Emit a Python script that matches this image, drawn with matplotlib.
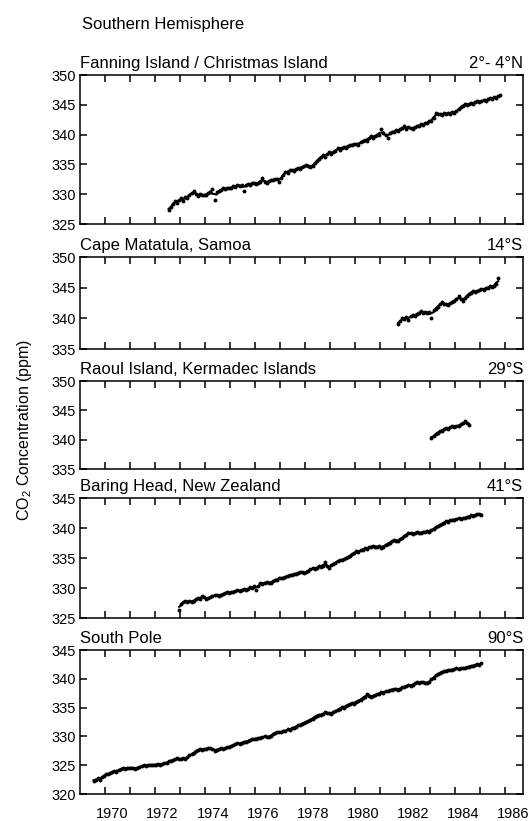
import numpy as np
import pandas as pd
import matplotlib
matplotlib.use('Agg')
import matplotlib.pyplot as plt
from matplotlib.ticker import MultipleLocator, FixedLocator, NullFormatter

plt.rcParams['font.family'] = ['Liberation Sans', 'DejaVu Sans']
plt.rcParams['mathtext.fontset'] = 'custom'
plt.rcParams['mathtext.rm'] = 'Liberation Sans'

# monthly flask means (ppm), each series starts at (year, month)
fanning_start = (1972, 7)
fanning = [
    327.3, 327.8, 328.4, 328.9, 328.5, 329.0,
    329.3, 328.8, 329.6, 329.4, 329.8, 330.2, 330.6, 330.1, 329.7, 330.0, 329.8, 329.9,
    329.8, 330.2, 330.4, 330.8, 329.0, 330.3, 330.5, 330.7, 331.0, 330.8, 331.0, 331.1,
    331.0, 331.3, 331.2, 331.5, 331.4, 331.6, 330.6, 331.6, 331.7, 331.5, 331.8, 331.9,
    331.7, 331.9, 332.0, 332.8, 332.0, 331.9, 332.2, 332.4, 332.3, 332.6, 332.5, 332.1,
    332.8, 333.3, 333.8, 333.6, 334.0, 334.1, 333.9, 334.2, 334.4, 334.3, 334.6, 334.7,
    334.9, 334.8, 334.6, 334.7, 335.2, 335.6, 335.9, 336.2, 336.6, 336.3, 336.7, 337.0,
    336.8, 337.1, 337.3, 337.7, 337.5, 337.8, 338.0, 337.7, 338.1, 338.3, 338.2, 338.4,
    338.5, 338.3, 338.7, 338.9, 339.1, 339.0, 339.4, 339.7, 339.5, 339.8, 340.0, 339.9,
    340.9, 340.2, 340.0, 339.4, 340.3, 340.5, 340.4, 340.7, 340.6, 340.9, 341.1, 341.4,
    341.0, 341.2, 341.1, 340.9, 341.3, 341.5, 341.4, 341.7, 341.6, 341.9, 342.0, 342.2,
    342.3, 342.8, 343.6, 343.4, 343.5, 343.3, 343.6, 343.4, 343.7, 343.5, 343.8, 343.6,
    343.9, 344.3, 344.6, 344.8, 345.2, 345.0, 345.1, 345.3, 345.2, 345.4, 345.6, 345.5,
    345.6, 345.8, 345.7, 345.9, 346.1, 346.0, 346.3, 346.1, 346.5, 346.7,
]

samoa_start = (1981, 9)
samoa = [
    339.0, 339.5, 340.1, 339.9,
    340.2, 339.8, 340.3, 340.5, 340.4, 340.7, 340.9, 341.2, 340.8, 341.0, 340.9, 341.1,
    340.1, 341.3, 341.6, 341.9, 342.3, 342.6, 342.4, 342.3, 342.1, 342.5, 342.7, 342.9,
    343.1, 343.6, 343.2, 342.8, 343.3, 343.7, 344.0, 344.2, 344.5, 344.3, 344.4, 344.6,
    344.8, 344.7, 344.9, 345.0, 345.2, 345.1, 345.3, 345.6, 346.5,
]

raoul_start = (1983, 1)
raoul = [
    340.3, 340.6, 340.9, 341.2, 341.5, 341.4, 341.8, 342.0, 341.8, 342.1, 342.3, 342.1,
    342.4, 342.3, 342.6, 342.8, 343.1, 342.9, 342.5,
]

baring_start = (1972, 12)
baring = [
    326.3,
    327.4, 327.7, 327.8, 327.6, 327.8, 327.7, 327.9, 328.1, 328.3, 328.2, 328.6, 328.5,
    328.1, 328.3, 328.5, 328.6, 328.8, 328.9, 328.7, 328.9, 329.0, 329.1, 329.3, 329.2,
    329.4, 329.3, 329.5, 329.6, 329.5, 329.7, 329.8, 329.6, 329.9, 330.1, 330.0, 330.3,
    329.7, 330.4, 330.8, 330.7, 330.9, 331.0, 330.8, 330.9, 331.1, 331.3, 331.4, 331.6,
    331.6, 331.7, 331.9, 332.0, 332.2, 332.1, 332.3, 332.4, 332.5, 332.7, 332.6, 332.5,
    332.7, 332.9, 333.1, 333.3, 333.2, 333.4, 333.6, 333.5, 333.7, 334.4, 333.6, 333.3,
    333.8, 334.0, 334.2, 334.5, 334.7, 334.6, 334.8, 335.0, 335.2, 335.4, 335.6, 335.8,
    336.1, 336.0, 336.3, 336.4, 336.6, 336.5, 336.8, 336.9, 337.0, 336.8, 336.9, 337.0,
    336.7, 336.9, 337.2, 337.4, 337.5, 337.8, 338.0, 337.9, 337.8, 338.1, 338.4, 338.6,
    338.9, 339.2, 339.1, 339.0, 339.2, 339.3, 339.1, 339.2, 339.4, 339.3, 339.5, 339.4,
    339.6, 339.9, 340.1, 340.3, 340.5, 340.7, 340.9, 341.2, 341.0, 341.3, 341.4, 341.3,
    341.5, 341.6, 341.5, 341.7, 341.6, 341.8, 341.9, 342.1, 342.0, 342.2, 342.3, 342.4,
    342.1,
]

pole_start = (1969, 7)
pole = [
    322.3, 322.5, 322.7, 322.4, 322.9, 323.2,
    323.5, 323.4, 323.7, 323.8, 324.0, 323.9, 324.2, 324.3, 324.5, 324.4, 324.6, 324.5,
    324.5, 324.6, 324.4, 324.5, 324.7, 324.8, 325.0, 324.9, 325.0, 325.1, 325.0, 325.1,
    325.1, 325.2, 325.1, 325.2, 325.4, 325.3, 325.7, 325.8, 325.9, 326.0, 326.2, 326.1,
    326.0, 326.2, 326.0, 326.4, 326.7, 326.9, 327.1, 327.4, 327.7, 327.8, 327.7, 327.8,
    327.8, 327.9, 328.0, 327.8, 327.5, 327.7, 327.8, 327.9, 327.8, 327.9, 328.1, 328.2,
    328.3, 328.5, 328.6, 328.8, 328.7, 328.9, 329.1, 329.0, 329.2, 329.4, 329.5, 329.6,
    329.6, 329.8, 329.7, 329.9, 330.0, 329.9, 329.9, 330.1, 330.4, 330.6, 330.8, 330.7,
    330.7, 330.9, 331.0, 331.2, 331.1, 331.4, 331.5, 331.7, 331.9, 332.0, 332.2, 332.4,
    332.5, 332.7, 332.9, 333.1, 333.4, 333.6, 333.8, 333.7, 333.9, 334.2, 334.0, 334.1,
    333.9, 334.2, 334.4, 334.6, 334.8, 335.1, 335.0, 335.3, 335.5, 335.6, 335.8, 335.7,
    336.0, 336.2, 336.4, 336.6, 336.9, 337.3, 337.1, 336.9, 337.0, 337.2, 337.3, 337.4,
    337.7, 337.6, 337.8, 337.9, 338.0, 338.1, 338.3, 338.2, 338.1, 338.3, 338.5, 338.6,
    338.7, 338.9, 338.8, 339.0, 339.2, 339.4, 339.3, 339.4, 339.5, 339.3, 339.2, 339.5,
    339.9, 340.2, 340.6, 340.8, 341.0, 341.2, 341.4, 341.3, 341.5, 341.6, 341.5, 341.7,
    341.8, 341.7, 341.8, 341.9, 341.8, 342.0, 342.1, 342.3, 342.2, 342.4, 342.5, 342.4,
    342.7,
]

names = ['Fanning Island / Christmas Island', 'Cape Matatula, Samoa',
         'Raoul Island, Kermadec Islands', 'Baring Head, New Zealand', 'South Pole']
lats = ['2°- 4°N', '14°S', '29°S', '41°S', '90°S']
series = [(fanning_start, fanning), (samoa_start, samoa), (raoul_start, raoul),
          (baring_start, baring), (pole_start, pole)]
yranges = [(325, 350), (335, 350), (335, 350), (325, 345), (320, 345)]
years = list(range(1970, 1987))
year_labels = list(range(1970, 1987, 2))

W, H = 531, 821
fig = plt.figure(figsize=(W / 100, H / 100), dpi=100)

# panel boxes in pixels: (top, bottom)
boxes = [(75, 224), (257, 349), (381, 469), (498, 618), (650, 794)]
x0, x1 = 80, 523

for i, ((top, bot), name, lat, (start, vals), yr) in enumerate(
        zip(boxes, names, lats, series, yranges)):
    ax = fig.add_axes([x0 / W, 1 - bot / H, (x1 - x0) / W, (bot - top) / H])
    t = start[0] + (start[1] - 1 + np.arange(len(vals)) + 0.5) / 12
    v = pd.Series(vals)
    smooth = v.rolling(3, center=True, min_periods=1).mean()
    ax.plot(t, smooth, color='black', lw=1.5)
    ax.plot(t, v, 'o', color='black', ms=2.8, mew=0)

    ax.set_xlim(1969.0, 1986.7)
    ax.set_ylim(*yr)
    ax.yaxis.set_major_locator(MultipleLocator(5))
    ax.xaxis.set_major_locator(FixedLocator(years))
    ax.xaxis.set_major_formatter(NullFormatter())
    ax.tick_params(which='major', direction='in', top=True, right=True,
                   length=5, width=1.1, labelsize=10.5, pad=3)
    for s in ax.spines.values():
        s.set_linewidth(1.1)

    if i == len(boxes) - 1:
        # year labels sit just right of each year tick
        ax.set_xticks([y + 0.3 for y in year_labels], minor=True)
        ax.set_xticklabels([str(y) for y in year_labels], minor=True)
        ax.tick_params(axis='x', which='minor', length=0, labelsize=10.5, pad=9)
    else:
        ax.tick_params(axis='x', which='minor', bottom=False, labelbottom=False)

    ax.annotate(name, xy=(0, 1), xycoords='axes fraction', xytext=(0, 3),
                textcoords='offset points', ha='left', va='bottom', fontsize=12)
    ax.annotate(lat, xy=(1, 1), xycoords='axes fraction', xytext=(0, 3),
                textcoords='offset points', ha='right', va='bottom', fontsize=12)

fig.text(82 / W, 1 - 29 / H, 'Southern Hemisphere', ha='left', va='baseline', fontsize=12)
fig.text(25 / W, 1 - 430 / H, 'CO$_\\mathregular{2}$ Concentration (ppm)', rotation=90,
         ha='center', va='center', fontsize=11.5)

fig.savefig('out.png', dpi=100)
